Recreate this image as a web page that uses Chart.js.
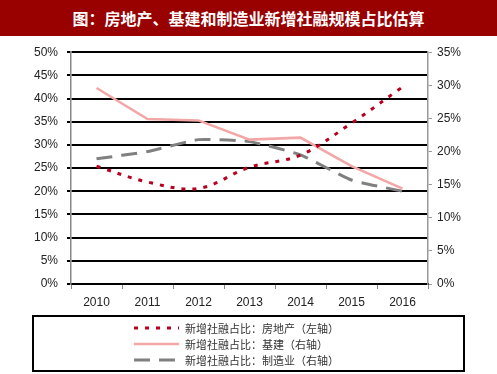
<!DOCTYPE html>
<html>
<head>
<meta charset="utf-8">
<script src="https://cdn.jsdelivr.net/npm/chart.js@4/dist/chart.umd.min.js"></script>
<style>
  body { margin: 0; width: 497px; height: 374px; background: #fff; position: relative; overflow: hidden; }
  .banner {
    position: absolute; left: 0; top: 0; width: 497px; height: 36px;
    background: #990000; color: #fff;
    font: bold 16px "Noto Sans CJK SC", sans-serif;
    text-align: center; line-height: 36px;
  }
  .chart-box { position: absolute; left: 0; top: 36px; width: 497px; height: 280px; }
  .legend-box {
    position: absolute; left: 32px; top: 315px; width: 429px; height: 50px;
    border: 2px solid #000; padding-top: 3px; box-sizing: content-box;
  }
  .legend-item {
    height: 16px; display: flex; align-items: center; padding-left: 99px;
    font: 11px "Noto Sans CJK SC", sans-serif; color: #333;
  }
  .legend-item canvas { margin-right: 6px; }
</style>
</head>
<body>
<div class="banner">图：房地产、基建和制造业新增社融规模占比估算</div>
<div class="chart-box"><canvas id="shareChart"></canvas></div>
<div class="legend-box" id="legend"></div>

<script>
// Data
const years = ['2010', '2011', '2012', '2013', '2014', '2015', '2016'];
const realEstate = [25.4, 22.0, 20.6, 25.2, 27.8, 34.7, 42.5];   // left axis
const infrastructure = [29.6, 24.9, 24.7, 21.8, 22.1, 17.8, 14.4]; // right axis
const manufacturing = [18.9, 20.0, 21.8, 21.5, 19.5, 15.7, 14.0];  // right axis
const leftTicks = [0, 50, 5];
const rightTicks = [0, 35, 5];

const seriesNames = [
    '新增社融占比：房地产（左轴）',
    '新增社融占比：基建（右轴）',
    '新增社融占比：制造业（右轴）'
];

const tickFont = { family: '"Liberation Sans", Arial, sans-serif', size: 12 };

const datasets = [{
    label: seriesNames[0],
    data: realEstate,
    yAxisID: 'yL',
    borderColor: '#b8001f',
    borderWidth: 3,
    borderDash: [4, 7],
    tension: 0.35,
    pointRadius: 0
}, {
    label: seriesNames[1],
    data: infrastructure,
    yAxisID: 'yR',
    borderColor: '#f2a7a6',
    borderWidth: 2.5,
    tension: 0,
    pointRadius: 0
}, {
    label: seriesNames[2],
    data: manufacturing,
    yAxisID: 'yR',
    borderColor: '#808080',
    borderWidth: 3,
    borderDash: [16, 9],
    tension: 0.15,
    pointRadius: 0
}];

new Chart(document.getElementById('shareChart'), {
    type: 'line',
    data: { labels: years, datasets: datasets },
    options: {
        responsive: true,
        maintainAspectRatio: false,
        animation: false,
        layout: { padding: { top: 12, left: 0, right: 0, bottom: 0 } },
        plugins: { legend: { display: false }, tooltip: { enabled: false } },
        scales: {
            x: {
                offset: true,
                grid: { offset: true, drawOnChartArea: false, color: '#888', tickLength: 5 },
                border: { color: '#000', width: 2 },
                ticks: { color: '#222', font: tickFont, padding: 6, maxRotation: 0 },
                afterFit: function(scale) { scale.height = 32; }
            },
            yL: {
                position: 'left',
                min: leftTicks[0], max: leftTicks[1],
                ticks: { stepSize: leftTicks[2], color: '#222', font: tickFont, padding: 9,
                    callback: function(v) { return v + '%'; } },
                grid: { color: '#000', lineWidth: 2, tickLength: 4 },
                border: { color: '#888', width: 1.5 },
                afterFit: function(scale) { scale.width = 71; }
            },
            yR: {
                position: 'right',
                min: rightTicks[0], max: rightTicks[1],
                ticks: { stepSize: rightTicks[2], color: '#222', font: tickFont, padding: 5,
                    callback: function(v) { return v + '%'; } },
                grid: { drawOnChartArea: false, color: '#999', tickLength: 4 },
                border: { color: '#999', width: 1.5 },
                afterFit: function(scale) { scale.width = 69; }
            }
        }
    }
});

// HTML legend built from the datasets
const legendEl = document.getElementById('legend');
datasets.forEach(function(ds) {
    const row = document.createElement('div');
    row.className = 'legend-item';
    const c = document.createElement('canvas');
    c.width = 46; c.height = 8;
    const g = c.getContext('2d');
    g.strokeStyle = ds.borderColor;
    g.lineWidth = ds.borderWidth;
    g.setLineDash(ds.borderDash || []);
    g.beginPath(); g.moveTo(1, 4); g.lineTo(46, 4); g.stroke();
    row.appendChild(c);
    const span = document.createElement('span');
    span.textContent = ds.label;
    row.appendChild(span);
    legendEl.appendChild(row);
});
</script>
</body>
</html>
